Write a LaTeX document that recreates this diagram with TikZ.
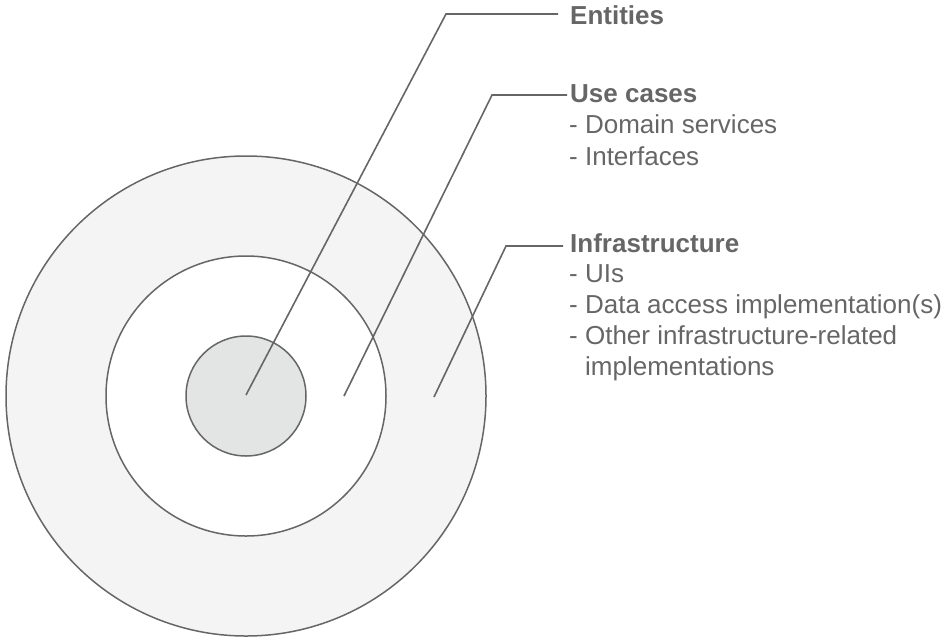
\documentclass[tikz,border=0pt]{standalone}
\usepackage{fontspec}
\setmainfont{Liberation Sans}
\definecolor{ink}{HTML}{666666}
\definecolor{ringfill}{HTML}{F4F4F4}
\definecolor{corefill}{HTML}{E3E4E4}
\begin{document}
\begin{tikzpicture}[x=1pt,y=-1pt,
  ring/.style={circle, draw=ink, line width=1.5pt, inner sep=0pt},
  conn/.style={draw=ink, line width=1.6pt},
  ttl/.style={anchor=base west, inner sep=0pt, text=ink, font=\fontsize{26}{31}\selectfont\bfseries},
  itm/.style={anchor=base west, inner sep=0pt, text=ink, font=\fontsize{26}{31}\selectfont}]
\useasboundingbox (0,0) rectangle (944,640);
\node[ring, fill=ringfill, minimum size=480pt] (outer) at (246,396) {};
\node[ring, fill=white, minimum size=280pt] (middle) at (246,396) {};
\node[ring, fill=corefill, minimum size=120pt] (inner) at (246,396) {};
% labels
\node[ttl] (ent) at (570,24) {Entities};
\node[ttl] (uc) at (570,102) {Use cases};
\node[itm] (uc1) at (569,133) {- Domain services};
\node[itm] (uc2) at (569,165) {- Interfaces};
\node[ttl] (inf) at (570,252) {Infrastructure};
\node[itm] (inf1) at (569,282) {- UIs};
\node[itm] (inf2) at (569,313) {- Data access implementation(s)};
\node[itm] (inf3) at (569,344) {- Other infrastructure-related};
\node[itm] (inf4) at (585,375) {implementations};
% connector points
\coordinate (e0) at (246,395);
\coordinate (e1) at (446,14);
\coordinate (u0) at (344,396);
\coordinate (u1) at (492,95);
\coordinate (i0) at (434,397);
\coordinate (i1) at (506,246);
\draw[conn, shorten >=12pt] (e0) -- (e1) -- (e1 -| ent.west);
\draw[conn, shorten >=3pt] (u0) -- (u1) -- (u1 -| uc.west);
\draw[conn, shorten >=7pt] (i0) -- (i1) -- (i1 -| inf.west);
\end{tikzpicture}
\end{document}
